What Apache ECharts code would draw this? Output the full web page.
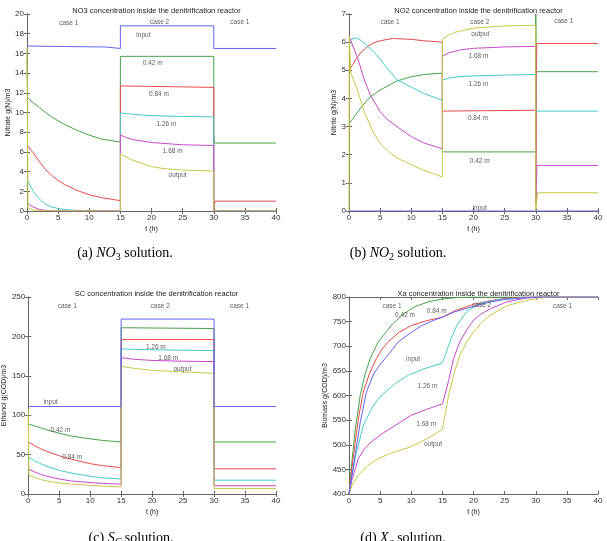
<!DOCTYPE html>
<html>
<head>
<meta charset="UTF-8">
<title>Denitrification reactor</title>
<script src="https://cdn.jsdelivr.net/npm/echarts@6/dist/echarts.min.js"></script>
<style>
  body { margin: 0; background: #fff; }
  #chart { width: 607px; height: 541px; }
</style>
</head>
<body>
<div id="chart"></div>
<script>
// time axis ticks, shared by all four panels
const tTicks = [0, 5, 10, 15, 20, 25, 30, 35, 40];

// (a) NO3, g(N)/m3  -- [t, value]
const no3Input = [[0,16.75],[6,16.7],[12.7,16.65],[12.8,16.5],[15,16.5],[15,18.8],[30,18.8],[30,16.5],[40,16.5]];
const no3At042 = [[0,15.5],[0.1,11.5],[1,11],[2,10.5],[3,10],[4,9.55],[5,9.15],[6,8.8],[8,8.2],[10,7.7],[12,7.3],[15,7],[15,15.7],[30,15.7],[30,8],[30.1,6.9],[40,6.9]];
const no3At084 = [[0,6.7],[0.2,6.7],[1,5.9],[2,5],[3,4.2],[4,3.6],[5,3.1],[6,2.7],[8,2.1],[10,1.65],[12,1.35],[15,1.05],[15,12.7],[20,12.65],[30,12.55],[30,0],[30.2,1],[40,1]];
const no3At126 = [[0,3.2],[0.5,2.6],[1,2],[2,1.2],[3,0.7],[4,0.4],[5,0.25],[6,0.15],[8,0.06],[15,0.02],[15,9.95],[17,9.82],[20,9.68],[25,9.6],[30,9.55],[30,0.05],[40,0.03]];
const no3At168 = [[0,0.8],[0.5,0.6],[1,0.4],[2,0.15],[3,0.06],[5,0.01],[15,0],[15,7.7],[16,7.45],[17,7.25],[20,6.95],[25,6.72],[30,6.65],[30,0],[40,0]];
const no3Output = [[0,16.6],[0.15,0.3],[1,0.1],[3,0.02],[15,0],[15,5.78],[17,5.15],[20,4.5],[22,4.3],[25,4.15],[30,4.05],[30,0],[40,0]];
const no3Notes = [[6.7,19.1,'case 1'],[21.3,19.2,'case 2'],[34.2,19.2,'case 1'],[18.7,17.8,'input'],[20.2,15,'0.42 m'],[21.2,11.9,'0.84 m'],[22.4,8.85,'1.26 m'],[23.4,6.1,'1.68 m'],[24.2,3.6,'output']];

// (b) NO2, g(N)/m3
const no2Input = [[0,0],[40,0]];
const no2At042 = [[0,3.1],[1,3.4],[2,3.7],[3.4,4.05],[5,4.3],[7.7,4.62],[10,4.77],[12,4.85],[15,4.9],[15,2.1],[30,2.1],[30,7],[30.1,4.95],[40,4.95]];
const no2At084 = [[0,5],[0.6,5.2],[1.2,5.43],[2,5.65],[3,5.85],[4,5.98],[5,6.05],[7,6.13],[10,6.1],[12,6.05],[15,6],[15,3.55],[30,3.58],[30,0.3],[30.15,5.95],[40,5.95]];
const no2At126 = [[0,6],[0.3,6.1],[1.2,6.15],[2,6.05],[3,5.85],[4,5.65],[5,5.4],[6,5.1],[7.7,4.66],[10,4.4],[12,4.18],[15,3.93],[15,4.65],[16,4.72],[18,4.78],[20,4.8],[25,4.83],[30,4.85],[30,3.55],[40,3.55]];
const no2At168 = [[0,6.2],[0.3,6.05],[1.4,5.43],[2.4,4.7],[3.4,4.13],[5,3.53],[6,3.28],[7.7,3],[10,2.64],[12,2.42],[15,2.21],[15,5.5],[16,5.62],[18,5.73],[20,5.78],[25,5.83],[30,5.85],[30,0.2],[30.2,1.62],[40,1.62]];
const no2Output = [[0,0],[0.05,6.2],[0.3,4.9],[1.2,4.4],[2.5,3.5],[3.9,2.8],[5,2.4],[6.6,2.05],[8,1.85],[10,1.65],[12,1.45],[15,1.21],[15,6.1],[16,6.25],[17,6.35],[20,6.5],[25,6.58],[30,6.6],[30,0],[30.3,0.65],[40,0.65]];
const no2Notes = [[6.6,6.72,'case 1'],[21,6.7,'case 2'],[34.5,6.75,'case 1'],[21.1,6.27,'output'],[20.8,5.5,'1.68 m'],[20.8,4.52,'1.26 m'],[20.7,3.29,'0.84 m'],[21,1.78,'0.42 m'],[21,0.1,'input']];

// (c) SC, g(COD)/m3
const scInput = [[0,111],[15,111],[15,222],[30,222],[30,111],[40,111]];
const scAt042 = [[0,89],[1,86.5],[2,84],[3,81.5],[5,77],[7,73.5],[10,70],[12,68],[15,66],[15,211],[30,210],[30,66],[40,66]];
const scAt084 = [[0,66],[1,61.5],[2,57.5],[3,54],[5,48.5],[7,44],[10,38.5],[12,36],[15,33.5],[15,196],[30,196],[30,32],[40,32]];
const scAt126 = [[0,47],[1,42],[2,38.5],[3,35],[5,30],[7,26.5],[10,22.5],[12,20.5],[15,19],[15,184],[20,183],[30,182],[30,17.5],[40,17.5]];
const scAt168 = [[0,32],[1,28],[2,25],[3,22.5],[5,19],[7,16.5],[10,14.5],[12,13.5],[15,12.5],[15,173],[17,171],[20,169.5],[25,168.5],[30,168],[30,10.5],[40,10.5]];
const scOutput = [[0,108],[0.1,24],[1,21],[2,18.5],[3,16.5],[5,14],[7,12.5],[10,11],[12,10],[15,9],[15,162],[17,159.5],[20,157],[25,155],[30,153],[30,7],[40,7]];
const scNotes = [[6.3,238,'case 1'],[21.3,238,'case 2'],[34.1,238,'case 1'],[3.6,116,'input'],[5.2,81,'0.42 m'],[7.1,46.6,'0.84 m'],[20.6,186.4,'1.26 m'],[22.6,172.5,'1.68 m'],[24.9,158.5,'output']];

// (d) Xa, g(COD)/m3
const xaInput = [[0,400],[0.5,440],[1,480],[1.8,545],[2.8,607],[4,645],[5,663],[5.8,675],[7,694],[7.9,709],[10,728],[11.7,742],[13.5,752],[15,759],[17,770],[20,781],[22.7,790],[25,795],[27,797],[30,800],[40,800]];
const xaAt042 = [[0,400],[0.5,470],[1,530],[1.8,600],[2.5,640],[3.4,675],[4.7,709],[6,730],[7,745],[8.7,765],[10.5,780],[12.7,790],[15,796],[17,798.5],[20,800],[40,800]];
const xaAt084 = [[0,400],[0.5,455],[1,505],[1.6,560],[2.3,607],[3.3,645],[4.4,675],[5.3,694],[6.3,709],[8,728],[10,742],[12.5,752],[15,759],[17,772],[20,785],[22.5,792],[25,797],[28,799.5],[30,800],[40,800]];
const xaAt126 = [[0,400],[1,475],[2.3,539],[3.5,570],[4.5,590],[5.8,607],[7.5,625],[9.5,641],[12,654],[15,666],[15.5,683],[16.2,709],[17.3,742],[18.9,770],[21,787],[24.2,795],[27.4,798],[30,800],[40,800]];
const xaAt168 = [[0,400],[0.5,430],[1.5,472],[2.5,492],[3.6,506],[5.5,524],[7.4,539],[10,560],[12.5,572],[15,583],[15.5,605],[16,630],[16.8,675],[17.8,709],[19,735],[20,753],[21.3,766],[22.7,776],[25.3,790],[28.5,798],[31,800],[40,800]];
const xaOutput = [[0,400],[0.5,418],[1.5,438],[3,458],[4.7,472],[7,484],[10,496],[12.5,512],[15,531],[15.5,565],[16,600],[16.8,641],[17.8,682],[19,710],[20,729],[21.3,748],[22.7,763],[25.3,782],[28.5,793],[30.6,798],[33,800],[40,800]];
const xaNotes = [[6.9,782,'case 1'],[9,764,'0.42 m'],[14.1,771,'0.84 m'],[10.3,673,'input'],[12.6,619,'1.26 m'],[12.4,541,'1.68 m'],[13.5,502,'output'],[21.3,784,'case 2'],[34.3,781,'case 1']];

// y ranges: [min, max, step]
const no3Ticks = [0, 20, 2];
const no2Ticks = [0, 7, 1];
const scTicks = [0, 250, 50];
const xaTicks = [400, 800, 50];

const colors = ['#6464f0', '#45a545', '#ea4a4a', '#48caca', '#c84ac8', '#c8c84a'];
const tickFont = 'Liberation Sans, Arial, sans-serif';

const panels = [
  { title: 'NO3 concentration inside the denitrification reactor', yName: 'Nitrate g(N)/m3', yGap: 13.5, ticks: no3Ticks,
    lines: [no3Input, no3At042, no3At084, no3At126, no3At168, no3Output], notes: no3Notes,
    grid: { left: 27, top: 14 } },
  { title: 'NO2 concentration inside the denitrification reactor', yName: 'Nitrite g(N)/m3', yGap: 8.5, ticks: no2Ticks,
    lines: [no2Input, no2At042, no2At084, no2At126, no2At168, no2Output], notes: no2Notes,
    grid: { left: 349, top: 14 } },
  { title: 'SC concentration inside the denitrification reactor', yName: 'Ethanol g(COD)/m3', yGap: 18, ticks: scTicks,
    lines: [scInput, scAt042, scAt084, scAt126, scAt168, scOutput], notes: scNotes,
    grid: { left: 27, top: 297 } },
  { title: 'Xa concentration inside the denitrification reactor', yName: 'Biomass g(COD)/m3', yGap: 13.5, ticks: xaTicks,
    lines: [xaInput, xaAt042, xaAt084, xaAt126, xaAt168, xaOutput], notes: xaNotes,
    grid: { left: 349, top: 297 } }
];

const W = 249, H = 197;
const axisLine = { show: true, lineStyle: { color: '#666', width: 1 } };
const axisTick = { show: true, inside: true, length: 3, lineStyle: { color: '#666' } };

const grid = [], xAxis = [], yAxis = [], series = [], title = [];

panels.forEach((p, i) => {
  grid.push({ left: p.grid.left, top: p.grid.top, width: W, height: H });
  title.push({
    text: p.title, left: p.grid.left + W / 2, top: p.grid.top - 12, textAlign: 'center',
    textStyle: { fontSize: 7.5, fontWeight: 'normal', color: '#222', fontFamily: tickFont }
  });
  const xBase = { type: 'value', gridIndex: i, min: tTicks[0], max: tTicks[tTicks.length - 1], interval: 5,
    axisLine, axisTick, splitLine: { show: false } };
  xAxis.push(Object.assign({}, xBase, {
    position: 'bottom', name: 't (h)', nameLocation: 'middle', nameGap: 15,
    nameTextStyle: { fontSize: 7, color: '#222', fontFamily: tickFont },
    axisLabel: { fontSize: 8, color: '#333', margin: 3, fontFamily: tickFont }
  }));
  const yBase = { type: 'value', gridIndex: i, min: p.ticks[0], max: p.ticks[1], interval: p.ticks[2],
    axisLine, axisTick, splitLine: { show: false } };
  yAxis.push(Object.assign({}, yBase, {
    position: 'left', name: p.yName, nameLocation: 'middle', nameGap: p.yGap,
    nameTextStyle: { fontSize: 7, color: '#222', fontFamily: tickFont },
    axisLabel: { fontSize: 8, color: '#333', margin: 3, fontFamily: tickFont }
  }));
  p.lines.forEach((d, k) => {
    series.push({
      type: 'line', xAxisIndex: i, yAxisIndex: i, data: d, showSymbol: false, symbol: 'none',
      lineStyle: { width: 1, color: colors[k] }, itemStyle: { color: colors[k] }, z: k === 0 ? 3 : 2
    });
  });
  series.push({
    type: 'scatter', xAxisIndex: i, yAxisIndex: i, data: p.notes, symbolSize: 0, z: 5,
    label: { show: true, position: 'inside', formatter: q => q.data[2], fontSize: 6.5, color: '#333', fontFamily: tickFont }
  });
});

// box axes on top / right (ticks only, MATLAB style)
panels.forEach((p, i) => {
  xAxis.push({ type: 'value', gridIndex: i, position: 'top', min: 0, max: 40, interval: 5,
    axisLine, axisTick, axisLabel: { show: false }, splitLine: { show: false } });
  yAxis.push({ type: 'value', gridIndex: i, position: 'right', min: p.ticks[0], max: p.ticks[1], interval: p.ticks[2],
    axisLine, axisTick, axisLabel: { show: false }, splitLine: { show: false } });
});

const capFont = 'Liberation Serif, DejaVu Serif, serif';
const capRich = {
  n: { fontSize: 14, fontFamily: capFont, color: '#111', verticalAlign: 'middle', lineHeight: 19 },
  i: { fontSize: 14, fontFamily: capFont, fontStyle: 'italic', color: '#111', verticalAlign: 'middle', lineHeight: 19 },
  s: { fontSize: 10, fontFamily: capFont, fontStyle: 'italic', color: '#111', verticalAlign: 'bottom', lineHeight: 19 },
  d: { fontSize: 10, fontFamily: capFont, color: '#111', verticalAlign: 'bottom', lineHeight: 19 }
};
const captions = [
  { x: 125, y: 253, text: '{n|(a) }{i|NO}{d|3}{n| solution.}' },
  { x: 398, y: 253, text: '{n|(b) }{i|NO}{d|2}{n| solution.}' },
  { x: 131, y: 538, text: '{n|(c) }{i|S}{s|C}{n| solution.}' },
  { x: 403, y: 538, text: '{n|(d) }{i|X}{s|a}{n| solution.}' }
];

const chart = echarts.init(document.getElementById('chart'));
chart.setOption({
  backgroundColor: '#fff',
  animation: false,
  title, grid, xAxis, yAxis, series,
  graphic: captions.map(c => ({
    type: 'text', x: c.x, y: c.y,
    style: { text: c.text, rich: capRich, align: 'center', verticalAlign: 'middle' }
  }))
});
</script>
</body>
</html>
